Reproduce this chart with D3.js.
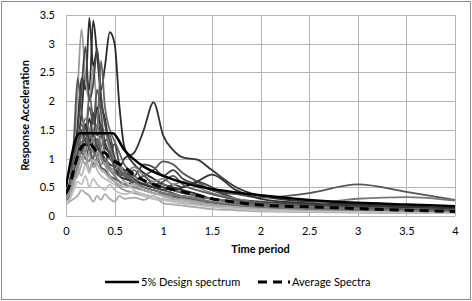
<!DOCTYPE html>
<html>
<head>
<meta charset="utf-8">
<script src="https://cdn.jsdelivr.net/npm/d3@7"></script>
<style>
  body { margin: 0; background: #fff; }
  text { font-family: Lato, "Open Sans", sans-serif; fill: #000; }
</style>
</head>
<body>
<div id="chart"></div>
<script>
// periods shared by every recorded spectrum
const periods = [0, 0.04, 0.08, 0.12, 0.16, 0.2, 0.24, 0.28, 0.32, 0.36, 0.4, 0.45, 0.5, 0.55, 0.6,
  0.7, 0.8, 0.9, 1.0, 1.1, 1.2, 1.35, 1.5, 1.75, 2.0, 2.5, 3.0, 3.5, 4.0];

// individual record spectra (grey lines) and their shade
const recordColors = ["#2e2e2e", "#2a2a2a", "#9a9a9a", "#333", "#555", "#444", "#666", "#555", "#777",
  "#aaa", "#888", "#bbb", "#666", "#999", "#444", "#333", "#aaa", "#777", "#888", "#5a5a5a", "#c0c0c0"];
const records = [
  [0.35,0.5,0.9,1.6,2.4,2.2,3.45,2.6,2.9,2.0,1.7,1.2,1.0,0.9,0.75,0.6,0.5,0.45,0.4,0.35,0.3,0.25,0.22,0.18,0.15,0.12,0.1,0.09,0.08],
  [0.3,0.45,0.7,1.2,1.8,2.5,2.2,3.4,2.8,2.2,2.6,3.2,3.0,1.9,1.2,0.9,0.75,0.65,0.55,0.5,0.45,0.38,0.3,0.25,0.2,0.16,0.12,0.1,0.09],
  [0.3,0.5,1.1,2.2,3.25,2.4,2.0,2.6,1.8,1.4,1.5,1.1,0.9,0.8,0.7,0.55,0.45,0.4,0.35,0.3,0.25,0.22,0.2,0.15,0.12,0.1,0.08,0.07,0.06],
  [0.4,0.5,0.8,1.2,1.5,1.3,1.7,1.4,1.9,1.5,1.2,1.1,0.9,0.85,1.0,1.1,1.5,1.98,1.4,1.15,1.02,0.98,0.8,0.5,0.35,0.25,0.2,0.17,0.14],
  [0.3,0.6,1.3,2.4,1.8,1.5,1.9,1.6,2.2,1.8,1.3,1.4,1.0,0.8,0.7,0.6,0.55,0.5,0.45,0.4,0.33,0.28,0.24,0.18,0.14,0.11,0.09,0.08,0.07],
  [0.35,0.5,0.9,1.5,2.2,2.95,2.0,2.3,2.9,2.1,1.6,1.3,1.0,0.85,0.8,0.7,0.9,0.85,0.7,0.8,0.65,0.55,0.45,0.3,0.22,0.16,0.12,0.1,0.08],
  [0.3,0.45,0.8,1.2,1.6,1.4,2.1,1.7,1.5,2.7,1.9,1.5,1.3,1.1,0.9,0.7,0.6,0.55,0.5,0.45,0.42,0.35,0.3,0.22,0.18,0.14,0.12,0.1,0.09],
  [0.25,0.35,0.6,0.9,1.1,1.0,1.2,0.9,1.0,0.85,0.8,0.7,0.65,0.6,0.55,0.6,0.7,0.8,0.95,0.9,0.75,0.6,0.45,0.38,0.32,0.4,0.55,0.42,0.28],
  [0.3,0.4,0.7,1.0,1.3,1.1,1.4,1.2,1.0,0.9,0.95,0.8,0.7,0.6,0.55,0.5,0.45,0.4,0.38,0.36,0.34,0.32,0.3,0.26,0.24,0.22,0.3,0.33,0.27],
  [0.2,0.25,0.3,0.35,0.45,0.4,0.35,0.25,0.35,0.28,0.38,0.3,0.25,0.35,0.3,0.32,0.28,0.35,0.22,0.2,0.18,0.15,0.12,0.1,0.08,0.07,0.06,0.05,0.05],
  [0.3,0.5,0.9,1.3,1.0,1.2,1.5,1.1,1.3,1.0,0.9,0.8,0.75,0.7,0.6,0.5,0.45,0.4,0.36,0.32,0.3,0.25,0.2,0.15,0.12,0.1,0.08,0.07,0.06],
  [0.25,0.3,0.5,0.8,0.7,0.9,0.75,1.0,0.8,0.7,0.65,0.6,0.55,0.5,0.6,0.45,0.38,0.34,0.3,0.28,0.25,0.2,0.17,0.13,0.1,0.08,0.07,0.06,0.05],
  [0.35,0.55,1.0,1.4,1.2,1.6,1.3,1.5,1.2,1.4,1.1,1.0,0.9,0.75,0.7,0.8,0.6,0.5,0.55,0.45,0.4,0.35,0.3,0.25,0.2,0.16,0.13,0.11,0.1],
  [0.28,0.4,0.6,0.8,1.0,0.9,1.1,0.85,0.95,1.2,0.9,0.7,0.6,0.5,0.45,0.4,0.35,0.3,0.28,0.25,0.22,0.2,0.18,0.14,0.12,0.1,0.09,0.08,0.07],
  [0.3,0.45,0.8,1.1,1.5,1.3,1.2,1.8,1.4,1.6,1.3,1.1,1.25,0.9,0.8,0.65,0.55,0.5,0.45,0.55,0.5,0.6,0.5,0.3,0.25,0.2,0.17,0.15,0.12],
  [0.35,0.5,0.8,1.2,1.4,1.6,1.3,1.4,1.2,1.1,1.0,0.9,0.85,0.7,0.65,0.6,0.55,0.5,0.5,0.45,0.5,0.6,0.72,0.45,0.3,0.22,0.18,0.15,0.12],
  [0.3,0.4,0.6,0.7,0.9,1.1,0.8,1.0,0.9,0.8,0.75,0.65,0.6,0.55,0.5,0.55,0.45,0.4,0.35,0.3,0.28,0.24,0.2,0.16,0.13,0.1,0.08,0.07,0.06],
  [0.3,0.5,0.85,1.2,1.4,1.7,1.5,1.3,1.6,1.2,1.45,1.2,0.95,0.85,0.75,0.6,0.5,0.45,0.4,0.38,0.35,0.3,0.25,0.2,0.16,0.12,0.1,0.09,0.08],
  [0.3,0.45,0.7,0.9,1.2,1.0,0.95,1.3,1.1,0.9,1.0,0.85,0.8,0.9,0.75,0.85,0.7,0.6,0.65,0.55,0.6,0.5,0.4,0.3,0.22,0.17,0.14,0.12,0.1],
  [0.4,0.6,1.0,1.3,1.1,1.45,1.2,1.0,1.35,1.1,0.95,1.1,0.8,0.7,0.75,0.6,0.7,0.55,0.6,0.7,0.55,0.45,0.38,0.28,0.22,0.18,0.15,0.12,0.1],
  [0.2,0.3,0.45,0.6,0.55,0.7,0.5,0.65,0.55,0.5,0.45,0.55,0.45,0.4,0.38,0.42,0.35,0.3,0.28,0.25,0.22,0.19,0.16,0.13,0.1,0.08,0.07,0.06,0.05]
];

// average of the records (dashed)
const averageSpectra = [0.4,0.55,0.8,1.05,1.2,1.25,1.28,1.2,1.12,1.1,1.1,1.0,0.95,0.9,0.85,0.72,0.62,0.55,0.5,0.46,0.42,0.36,0.3,0.24,0.19,0.16,0.13,0.1,0.08];

// 5% design spectrum (solid black)
const designPeriods = [0, 0.14, 0.48, 0.6, 0.8, 1.0, 1.25, 1.5, 1.75, 2.0, 2.5, 3.0, 3.5, 4.0];
const designValues = [0.5, 1.44, 1.44, 1.15, 0.86, 0.7, 0.56, 0.47, 0.41, 0.36, 0.28, 0.23, 0.2, 0.17];

const xTicks = [0, 0.5, 1, 1.5, 2, 2.5, 3, 3.5, 4];
const yTicks = [0, 0.5, 1, 1.5, 2, 2.5, 3, 3.5];

//==============================================================================

const width = 472, height = 301;
const margin = {left: 66, right: 17, top: 15, bottom: 85};

const svg = d3.select("#chart").append("svg")
    .attr("width", width)
    .attr("height", height);

// outer frame
svg.append("rect")
    .attr("x", 1.5).attr("y", 1.5)
    .attr("width", width - 3).attr("height", height - 3)
    .attr("fill", "#fff")
    .attr("stroke", "#8c8c8c");

const x = d3.scaleLinear().domain([0, 4]).range([margin.left, width - margin.right]);
const y = d3.scaleLinear().domain([0, 3.5]).range([height - margin.bottom, margin.top]);

// grid
const grid = svg.append("g").attr("stroke", "#b5b5b5").attr("stroke-width", 1);
grid.selectAll("line.v").data(xTicks).join("line")
    .attr("x1", d => Math.round(x(d)) + 0.5).attr("x2", d => Math.round(x(d)) + 0.5)
    .attr("y1", y(3.5)).attr("y2", y(0));
grid.selectAll("line.h").data(yTicks).join("line")
    .attr("y1", d => Math.round(y(d)) + 0.5).attr("y2", d => Math.round(y(d)) + 0.5)
    .attr("x1", x(0)).attr("x2", x(4));

// tick labels via d3 axes
const xAxis = svg.append("g")
    .attr("transform", `translate(0,${y(0)})`)
    .call(d3.axisBottom(x).tickValues(xTicks).tickSize(0).tickPadding(11).tickFormat(d3.format("")));
const yAxis = svg.append("g")
    .attr("transform", `translate(${x(0)},0)`)
    .call(d3.axisLeft(y).tickValues(yTicks).tickSize(0).tickPadding(11).tickFormat(d3.format("")));
[xAxis, yAxis].forEach(a => {
  a.select(".domain").remove();
  a.selectAll("text").attr("font-size", 11).attr("font-family", "Lato, sans-serif");
});

const line = d3.line().curve(d3.curveMonotoneX).x(d => x(d[0])).y(d => y(d[1]));

svg.append("clipPath").attr("id", "plot")
  .append("rect").attr("x", x(0)).attr("y", y(3.5) - 2).attr("width", x(4) - x(0) + 1).attr("height", y(0) - y(3.5) + 2);

const plot = svg.append("g").attr("clip-path", "url(#plot)");

plot.selectAll("path.rec")
  .data(records)
  .join("path")
    .attr("class", "rec")
    .attr("fill", "none")
    .attr("stroke", (d, i) => recordColors[i])
    .attr("stroke-width", 1.8)
    .attr("stroke-linejoin", "round")
    .attr("d", vals => line(vals.map((v, i) => [periods[i], v])));

plot.append("path")
    .attr("fill", "none")
    .attr("stroke", "#000")
    .attr("stroke-width", 2.5)
    .attr("d", line(designValues.map((v, i) => [designPeriods[i], v])));

plot.append("path")
    .attr("fill", "none")
    .attr("stroke", "#000")
    .attr("stroke-width", 3)
    .attr("stroke-dasharray", "9,6")
    .attr("d", line(averageSpectra.map((v, i) => [periods[i], v])));

// axis titles
svg.append("text")
    .attr("x", (x(0) + x(4)) / 2).attr("y", 253)
    .attr("text-anchor", "middle")
    .attr("font-size", 11).attr("font-weight", "bold")
    .text("Time period");

svg.append("text")
    .attr("transform", `translate(29,${(y(0) + y(3.5)) / 2}) rotate(-90)`)
    .attr("text-anchor", "middle")
    .attr("font-size", 11).attr("font-weight", "bold")
    .text("Response Acceleration");

// legend
const legend = svg.append("g").attr("transform", "translate(0,282)");
legend.append("line").attr("x1", 105).attr("x2", 139).attr("y1", 0).attr("y2", 0)
    .attr("stroke", "#000").attr("stroke-width", 2.5);
legend.append("text").attr("x", 141).attr("y", 4).attr("font-size", 11).text("5% Design spectrum");
legend.append("line").attr("x1", 258).attr("x2", 290).attr("y1", 0).attr("y2", 0)
    .attr("stroke", "#000").attr("stroke-width", 3).attr("stroke-dasharray", "9,6");
legend.append("text").attr("x", 292).attr("y", 4).attr("font-size", 11).text("Average Spectra");
</script>
</body>
</html>
